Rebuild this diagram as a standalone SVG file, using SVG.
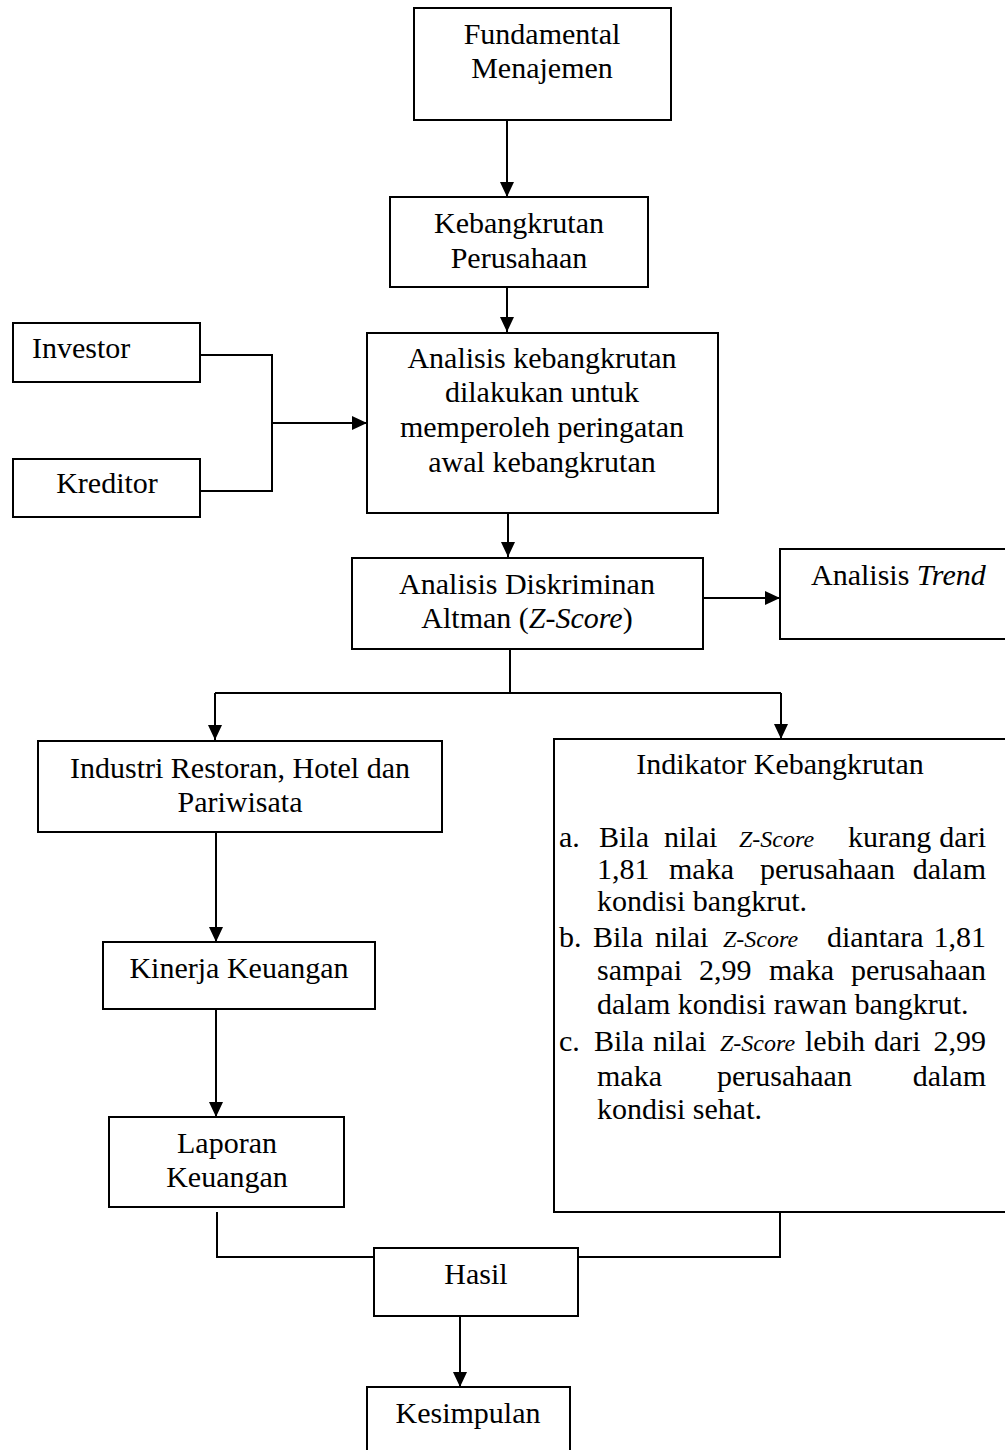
<svg xmlns="http://www.w3.org/2000/svg" width="1005" height="1450" viewBox="0 0 1005 1450">
<style>
.box{fill:#fff;stroke:#000;stroke-width:2}
.c{fill:none;stroke:#000;stroke-width:2}
text{font-family:"Liberation Serif","Times New Roman",serif;font-size:30px;fill:#000}
.m{text-anchor:middle}
.e{text-anchor:end}
.i{font-style:italic}
.z{font-style:italic;font-size:24px}
</style>
<defs>
<marker id="ah" viewBox="0 0 15 14" refX="15" refY="7" markerWidth="15" markerHeight="14" markerUnits="userSpaceOnUse" orient="auto">
<path d="M0,0 L15,7 L0,14 z" fill="#000"/>
</marker>
</defs>
<rect width="1005" height="1450" fill="#fff"/>
<g id="connectors">
<path class="c" d="M507,120 V197" marker-end="url(#ah)"/>
<path class="c" d="M507,287 V332" marker-end="url(#ah)"/>
<path class="c" d="M200,355 H272 V491 H200"/>
<path class="c" d="M272,423 H367" marker-end="url(#ah)"/>
<path class="c" d="M508,513 V557" marker-end="url(#ah)"/>
<path class="c" d="M695,598 H780" marker-end="url(#ah)"/>
<path class="c" d="M510,649 V693 M215,693 H781"/>
<path class="c" d="M215,693 V740" marker-end="url(#ah)"/>
<path class="c" d="M781,693 V739" marker-end="url(#ah)"/>
<path class="c" d="M216,832 V942" marker-end="url(#ah)"/>
<path class="c" d="M216,1009 V1117" marker-end="url(#ah)"/>
<path class="c" d="M217,1212 V1257 H374"/>
<path class="c" d="M780,1212 V1257 H578"/>
<path class="c" d="M460,1316 V1387" marker-end="url(#ah)"/>
</g>
<g id="fundamental">
<rect class="box" x="414" y="8" width="257" height="112"/>
<text class="m" x="542" y="44">Fundamental</text>
<text class="m" x="542" y="78">Menajemen</text>
</g>
<g id="kebangkrutan">
<rect class="box" x="390" y="197" width="258" height="90"/>
<text class="m" x="519" y="233">Kebangkrutan</text>
<text class="m" x="519" y="268">Perusahaan</text>
</g>
<g id="investor">
<rect class="box" x="13" y="323" width="187" height="59"/>
<text x="32" y="358">Investor</text>
</g>
<g id="kreditor">
<rect class="box" x="13" y="459" width="187" height="58"/>
<text class="m" x="107" y="493">Kreditor</text>
</g>
<g id="analisis">
<rect class="box" x="367" y="333" width="351" height="180"/>
<text class="m" x="542" y="368">Analisis kebangkrutan</text>
<text class="m" x="542" y="402">dilakukan untuk</text>
<text class="m" x="542" y="437">memperoleh peringatan</text>
<text class="m" x="542" y="472">awal kebangkrutan</text>
</g>
<g id="diskriminan">
<rect class="box" x="352" y="558" width="351" height="91"/>
<text class="m" x="527" y="594">Analisis Diskriminan</text>
<text class="m" x="527" y="628">Altman (<tspan class="i">Z-Score</tspan>)</text>
</g>
<g id="trend">
<rect class="box" x="780" y="549" width="235" height="90"/>
<text x="811" y="585">Analisis <tspan class="i">Trend</tspan></text>
</g>
<g id="industri">
<rect class="box" x="38" y="741" width="404" height="91"/>
<text class="m" x="240" y="778">Industri Restoran, Hotel dan</text>
<text class="m" x="240" y="812">Pariwisata</text>
</g>
<g id="kinerja">
<rect class="box" x="103" y="942" width="272" height="67"/>
<text class="m" x="239" y="978">Kinerja Keuangan</text>
</g>
<g id="laporan">
<rect class="box" x="109" y="1117" width="235" height="90"/>
<text class="m" x="227" y="1153">Laporan</text>
<text class="m" x="227" y="1187">Keuangan</text>
</g>
<g id="indikator">
<rect class="box" x="554" y="739" width="461" height="473"/>
<text class="m" x="780" y="774">Indikator Kebangkrutan</text>
<text y="847"><tspan x="559">a.</tspan><tspan x="599">Bila</tspan><tspan x="664">nilai</tspan><tspan x="739" class="z">Z-Score</tspan><tspan x="848">kurang</tspan></text>
<text class="e" x="986" y="847">dari</text>
<text y="879"><tspan x="597">1,81</tspan><tspan x="669">maka</tspan><tspan x="760">perusahaan</tspan></text>
<text class="e" x="986" y="879">dalam</text>
<text x="597" y="911">kondisi bangkrut.</text>
<text y="947"><tspan x="559">b.</tspan><tspan x="593">Bila</tspan><tspan x="655">nilai</tspan><tspan x="723" class="z">Z-Score</tspan><tspan x="827">diantara</tspan></text>
<text class="e" x="986" y="947">1,81</text>
<text y="980"><tspan x="597">sampai</tspan><tspan x="699">2,99</tspan><tspan x="769">maka</tspan></text>
<text class="e" x="986" y="980">perusahaan</text>
<text x="597" y="1014">dalam kondisi rawan bangkrut.</text>
<text y="1051"><tspan x="559">c.</tspan><tspan x="594">Bila</tspan><tspan x="653">nilai</tspan><tspan x="720" class="z">Z-Score</tspan><tspan x="805">lebih</tspan><tspan x="874">dari</tspan></text>
<text class="e" x="986" y="1051">2,99</text>
<text y="1086"><tspan x="597">maka</tspan><tspan x="717">perusahaan</tspan></text>
<text class="e" x="986" y="1086">dalam</text>
<text x="597" y="1119">kondisi sehat.</text>
</g>
<g id="hasil">
<rect class="box" x="374" y="1248" width="204" height="68"/>
<text class="m" x="476" y="1284">Hasil</text>
</g>
<g id="kesimpulan">
<rect class="box" x="367" y="1387" width="203" height="80"/>
<text class="m" x="468" y="1423">Kesimpulan</text>
</g>
</svg>
